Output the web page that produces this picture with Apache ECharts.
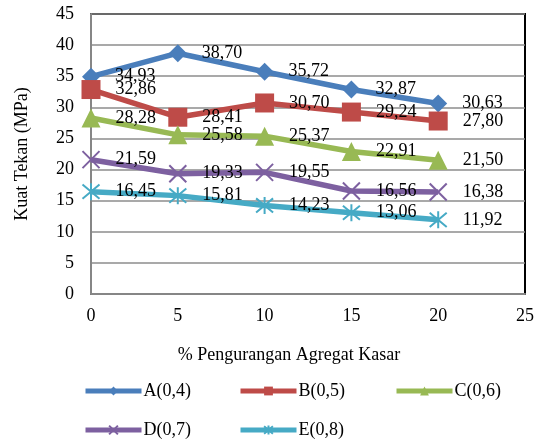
<!DOCTYPE html>
<html>
<head>
<meta charset="utf-8">
<script src="https://cdn.jsdelivr.net/npm/echarts@6/dist/echarts.min.js"></script>
<style>
  html, body { margin: 0; padding: 0; background: #fff; }
  #main { width: 537px; height: 441px; }
</style>
</head>
<body>
<div id="main"></div>
<script>
var xValues = [0, 5, 10, 15, 20];
var seriesNames = ['A(0,4)', 'B(0,5)', 'C(0,6)', 'D(0,7)', 'E(0,8)'];
var valuesA = [34.93, 38.70, 35.72, 32.87, 30.63];
var valuesB = [32.86, 28.41, 30.70, 29.24, 27.80];
var valuesC = [28.28, 25.58, 25.37, 22.91, 21.50];
var valuesD = [21.59, 19.33, 19.55, 16.56, 16.38];
var valuesE = [16.45, 15.81, 14.23, 13.06, 11.92];

var colors = ['#4a7ebb', '#be4b48', '#98b954', '#7d60a0', '#46aac5'];
var symbols = [
    'diamond',
    'rect',
    'triangle',
    'path://M0,0L10,10M10,0L0,10',
    'path://M0,0L10,10M10,0L0,10M5,-1L5,11'
];
var symbolSizes = [18, 19, 19, 17, 17];
var FONT = '"Liberation Serif", "Times New Roman", serif';
var FS = 18;

var docChart = document.getElementById('main');
var myChart = echarts.init(docChart);

function toPairs(vals) {
    var out = [];
    for (var i = 0; i < vals.length; i++) {
        out.push([xValues[i], vals[i]]);
    }
    return out;
}

var allValues = [valuesA, valuesB, valuesC, valuesD, valuesE];
var series = [];
for (var s = 0; s < allValues.length; s++) {
    var stroked = s >= 3;
    series.push({
        name: seriesNames[s],
        type: 'line',
        data: toPairs(allValues[s]),
        symbol: symbols[s],
        symbolSize: symbolSizes[s],
        showAllSymbol: true,
        lineStyle: { color: colors[s], width: 5.5 },
        itemStyle: {
            color: colors[s],
            borderColor: colors[s],
            borderWidth: stroked ? 2 : 0
        },
        label: {
            show: true,
            position: 'right',
            distance: 15,
            color: '#000',
            fontFamily: FONT,
            fontSize: FS,
            formatter: function (p) {
                return p.value[1].toFixed(2).replace('.', ',');
            }
        },
        emphasis: { disabled: true },
        animation: false
    });
}

// one legend block per item, laid out like the original two rows
var legendPos = [[83, 382], [238, 382], [394, 382], [83, 421], [238, 421]];
var legends = [];
for (var l = 0; l < seriesNames.length; l++) {
    legends.push({
        data: [seriesNames[l]],
        left: legendPos[l][0],
        top: legendPos[l][1],
        itemWidth: 56,
        itemHeight: 11,
        itemGap: 0,
        padding: 0,
        lineStyle: { width: 5 },
        textStyle: { fontFamily: FONT, fontSize: FS, color: '#000', padding: [0, 0, 0, -3] }
    });
}

var option = {
    backgroundColor: '#fff',
    animation: false,
    grid: {
        left: 91,
        right: 10,
        top: 14,
        bottom: 147,
        show: true,
        borderColor: '#000',
        borderWidth: 2
    },
    legend: legends,
    xAxis: {
        type: 'value',
        min: 0,
        max: 25,
        interval: 5,
        name: '% Pengurangan Agregat Kasar',
        nameLocation: 'middle',
        nameGap: 52,
        nameTextStyle: { fontFamily: FONT, fontSize: FS, color: '#000', padding: [0, 38, 0, 0] },
        axisLine: { show: true, lineStyle: { color: '#868686', width: 2 } },
        axisTick: { show: false },
        axisLabel: { fontFamily: FONT, fontSize: FS, color: '#000', margin: 13 },
        splitLine: { show: false }
    },
    yAxis: {
        type: 'value',
        min: 0,
        max: 45,
        interval: 5,
        name: 'Kuat Tekan (MPa)',
        nameLocation: 'middle',
        nameGap: 60,
        nameTextStyle: { fontFamily: FONT, fontSize: FS, color: '#000' },
        axisLine: { show: true, lineStyle: { color: '#868686', width: 2 } },
        axisTick: { show: false },
        axisLabel: { fontFamily: FONT, fontSize: FS, color: '#000', margin: 17 },
        splitLine: { show: true, lineStyle: { color: '#8c8c8c', width: 1.5 } }
    },
    series: series
};

myChart.setOption(option);
</script>
</body>
</html>
